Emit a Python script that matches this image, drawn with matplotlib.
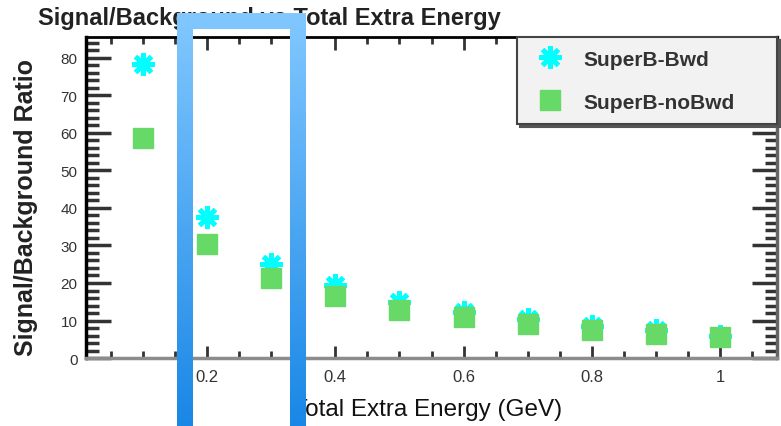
import numpy as np
import matplotlib
matplotlib.use("Agg")
import matplotlib.pyplot as plt
from matplotlib.ticker import MultipleLocator

plt.rcParams['font.family'] = ['Liberation Sans', 'DejaVu Sans']

# Energy cut values (GeV) and signal/background ratios
energia = [0.1, 0.2, 0.3, 0.4, 0.5, 0.6, 0.7, 0.8, 0.9, 1.0]
ratio_bwd = [78.4, 37.7, 25.0, 19.5, 14.9, 12.3, 10.4, 8.5, 7.5, 5.9]
ratio_nobwd = [58.7, 30.3, 21.2, 16.5, 12.9, 10.9, 9.1, 7.6, 6.5, 5.6]

etiquetas = ["SuperB-Bwd", "SuperB-noBwd"]
ticks_x = [0.2, 0.4, 0.6, 0.8, 1.0]
etiquetas_x = ["0.2", "0.4", "0.6", "0.8", "1"]

fig = plt.figure(figsize=(7.81, 4.27), dpi=100)
ax = fig.add_axes([0.110, 0.159, 0.885, 0.752])

ax.plot(energia, ratio_bwd, linestyle='none', marker=(8, 2, 0), markersize=16,
        markeredgewidth=3.5, color='#00ffff', label=etiquetas[0], zorder=3)
ax.plot(energia, ratio_nobwd, linestyle='none', marker='s', markersize=14.5,
        color='#66d966', markeredgecolor='#66d966', label=etiquetas[1], zorder=4)

ax.set_xlim(0.011, 1.089)
ax.set_ylim(0, 85.5)

ax.set_xticks(ticks_x)
ax.set_xticklabels(etiquetas_x)
ax.xaxis.set_minor_locator(MultipleLocator(0.05))
ax.yaxis.set_major_locator(MultipleLocator(10))
ax.yaxis.set_minor_locator(MultipleLocator(2))

ax.tick_params(which='both', direction='in', top=True, right=True,
               labelsize=11, labelcolor='#333333', color='#333333')
ax.tick_params(axis='y', which='major', length=18, width=2.5, pad=6)
ax.tick_params(axis='y', which='minor', length=9, width=2.5)
ax.tick_params(axis='x', which='major', length=9, width=2, pad=8, labelsize=12)
ax.tick_params(axis='x', which='minor', length=5, width=2)

ax.spines['left'].set_linewidth(2.5)
ax.spines['left'].set_color('black')
ax.spines['top'].set_linewidth(2)
ax.spines['top'].set_color('black')
ax.spines['bottom'].set_linewidth(2.5)
ax.spines['bottom'].set_color('#8c8c8c')
ax.spines['right'].set_linewidth(2.5)
ax.spines['right'].set_color('#666666')

fig.text(0.049, 0.956, "Signal/Background vs Total Extra Energy", fontsize=17,
         fontweight='bold', color='#222222', ha='left', va='center')
fig.text(0.548, 0.040, "Total Extra Energy (GeV)", fontsize=17.5,
         color='#111111', ha='center', va='center')
fig.text(0.033, 0.515, "Signal/Background Ratio", fontsize=18,
         fontweight='bold', color='#222222', rotation=90, ha='center', va='center')

leg = ax.legend(loc='upper left', bbox_to_anchor=(0.662, 0.712, 0.333, 0.199),
                bbox_transform=fig.transFigure, mode='expand', borderaxespad=0,
                fancybox=False, shadow={'color': '#555555', 'alpha': 1},
                facecolor='#f2f2f2', edgecolor='#444444', framealpha=1,
                numpoints=1, borderpad=0.6, labelspacing=1.16,
                handlelength=2.0, handletextpad=0.6, fontsize=15)
leg.get_frame().set_linewidth(1.5)
for t in leg.get_texts():
    t.set_fontweight('bold')
    t.set_color('#333333')

# highlight frame drawn on top of the whole figure
alto, ancho = 427, 781
capa = np.zeros((alto, ancho, 4))
filas = np.arange(alto)[:, None]
cols = np.arange(ancho)[None, :]
exterior = (cols >= 177) & (cols < 306) & (filas >= 14)
interior = (cols >= 193) & (cols < 290) & (filas >= 30)
marco = exterior & ~interior
frac = np.clip((filas - 14) / (alto - 14), 0, 1)
arriba = np.array([130, 200, 255]) / 255
abajo = np.array([25, 135, 230]) / 255
grad = arriba + (abajo - arriba) * frac[..., None]
capa[..., :3] = np.broadcast_to(grad, (alto, ancho, 3))
capa[..., 3] = marco.astype(float)

over = fig.add_axes([0, 0, 1, 1], zorder=10)
over.imshow(capa, interpolation='nearest', aspect='auto')
over.axis('off')

fig.savefig("out.png", dpi=100)
